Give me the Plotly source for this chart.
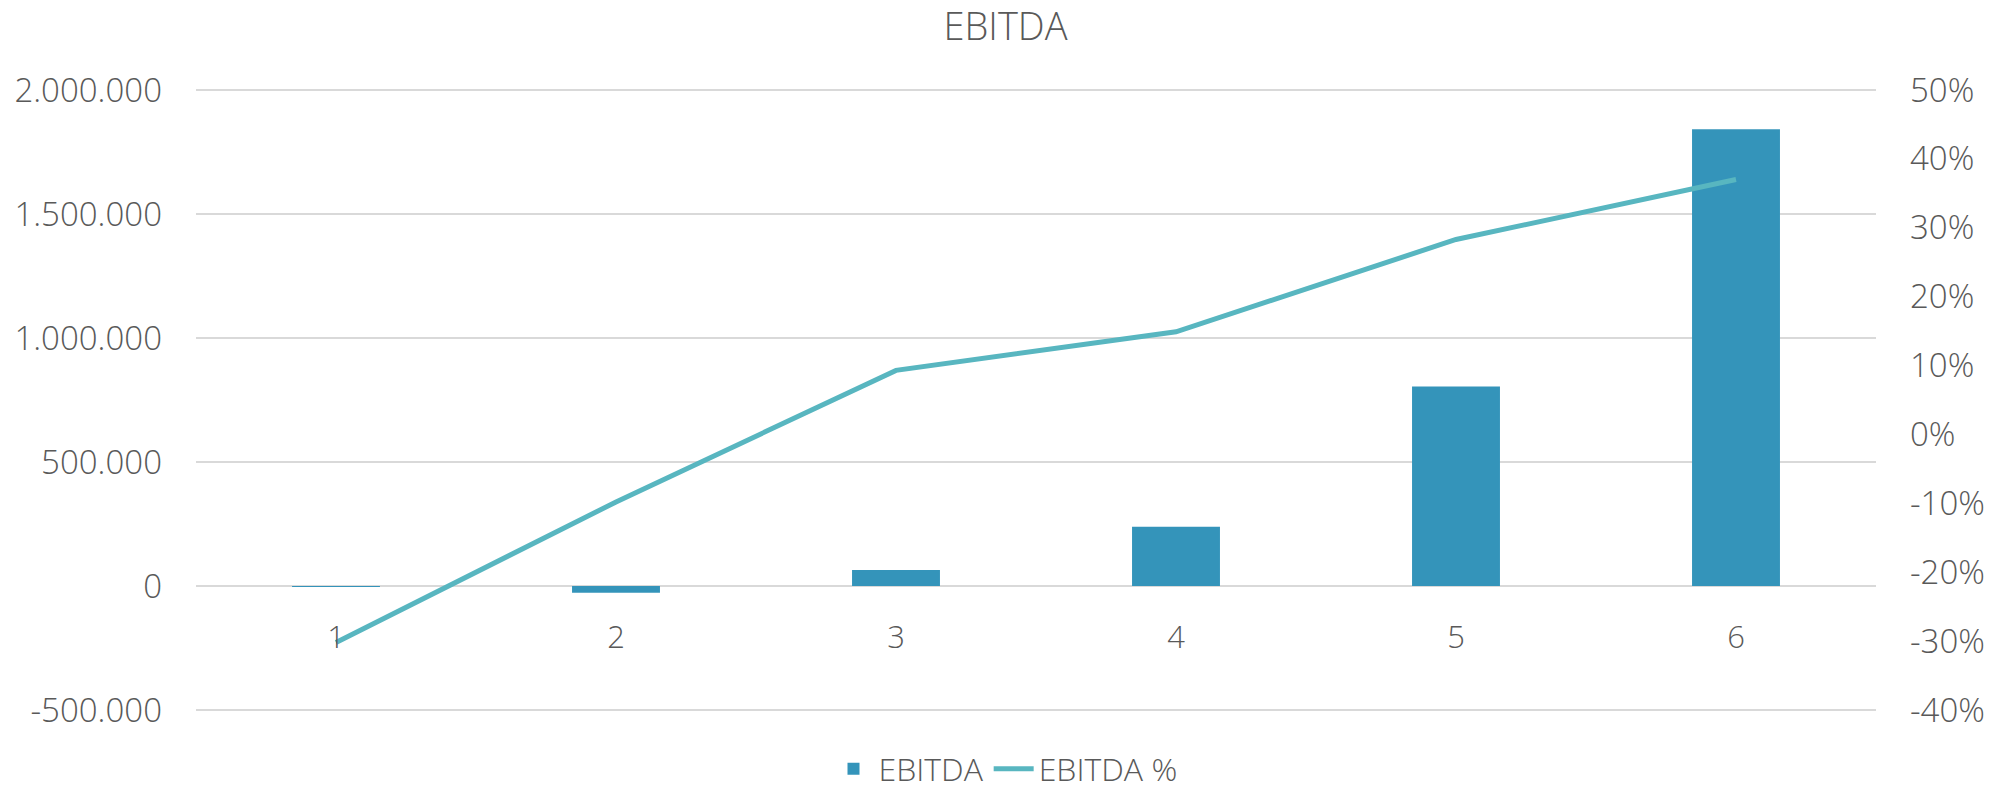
import plotly.graph_objects as go

categories = ["1", "2", "3", "4", "5", "6"]
ebitda = [-3000, -27000, 65000, 239000, 804000, 1842000]
ebitda_pct = [-0.302, -0.098, 0.093, 0.149, 0.283, 0.370]

left_tickvals = [-500000, 0, 500000, 1000000, 1500000, 2000000]
left_ticktext = ["-500.000", "0", "500.000", "1.000.000", "1.500.000", "2.000.000"]
right_tickvals = [-0.4, -0.3, -0.2, -0.1, 0.0, 0.1, 0.2, 0.3, 0.4, 0.5]
right_ticktext = ["-40%", "-30%", "-20%", "-10%", "0%", "10%", "20%", "30%", "40%", "50%"]

TXT = "#595959"
FONT = "Open Sans"
W, H = 1995, 784
PAD = 3  # px of extra plot area above/below so edge gridlines are drawn

fig = go.Figure()
fig.add_trace(go.Bar(
    x=categories, y=ebitda, name="EBITDA",
    marker=dict(color="#3494BA", line=dict(width=0)),
    width=0.314, yaxis="y",
))
fig.add_trace(go.Scatter(
    x=categories, y=ebitda_pct, name="EBITDA %", mode="lines",
    line=dict(color="#58B6C0", width=5), yaxis="y2",
))

eps_l = 2500000 * PAD / 620
eps_r = 0.9 * PAD / 620
inner_h = 620 + 2 * PAD
zero_pos = (PAD + 124) / inner_h

fig.update_layout(
    width=W, height=H,
    margin=dict(l=188, r=127, t=82 - PAD, b=82 - PAD, autoexpand=False),
    paper_bgcolor="white", plot_bgcolor="white",
    font=dict(family=FONT, color=TXT, size=30, weight=300),
    title=dict(text="EBITDA", x=0.5, xref="container", xanchor="center",
               y=1 - 19 / H, yref="container", yanchor="middle",
               font=dict(size=38, color=TXT, family=FONT, weight=300)),
    xaxis=dict(type="category", anchor="free", position=zero_pos, automargin=False,
               showgrid=False, showline=False, zeroline=False, ticks="",
               ticklabelstandoff=30, tickfont=dict(size=31, color=TXT)),
    yaxis=dict(range=[-500000 - eps_l, 2000000 + eps_l],
               tickvals=left_tickvals, ticktext=left_ticktext,
               showgrid=True, gridcolor="#D9D9D9", gridwidth=2, zeroline=False,
               showline=False, ticks="", ticklabelstandoff=33, automargin=False,
               tickfont=dict(size=33, color=TXT)),
    yaxis2=dict(range=[-0.4 - eps_r, 0.5 + eps_r],
                tickvals=right_tickvals, ticktext=right_ticktext,
                overlaying="y", side="right", anchor="free", position=1,
                showgrid=False, zeroline=False, showline=False, ticks="",
                ticklabelstandoff=33, automargin=False,
                tickfont=dict(size=33, color=TXT)),
    showlegend=True,
    legend=dict(orientation="h", xref="container", yref="container",
                x=0.5, y=1 - 761 / H, xanchor="center", yanchor="middle",
                font=dict(size=32, color=TXT, family=FONT, weight=300),
                itemwidth=40, tracegroupgap=0, bgcolor="rgba(0,0,0,0)"),
    bargap=0.686,
)

fig.write_html("out.html")
